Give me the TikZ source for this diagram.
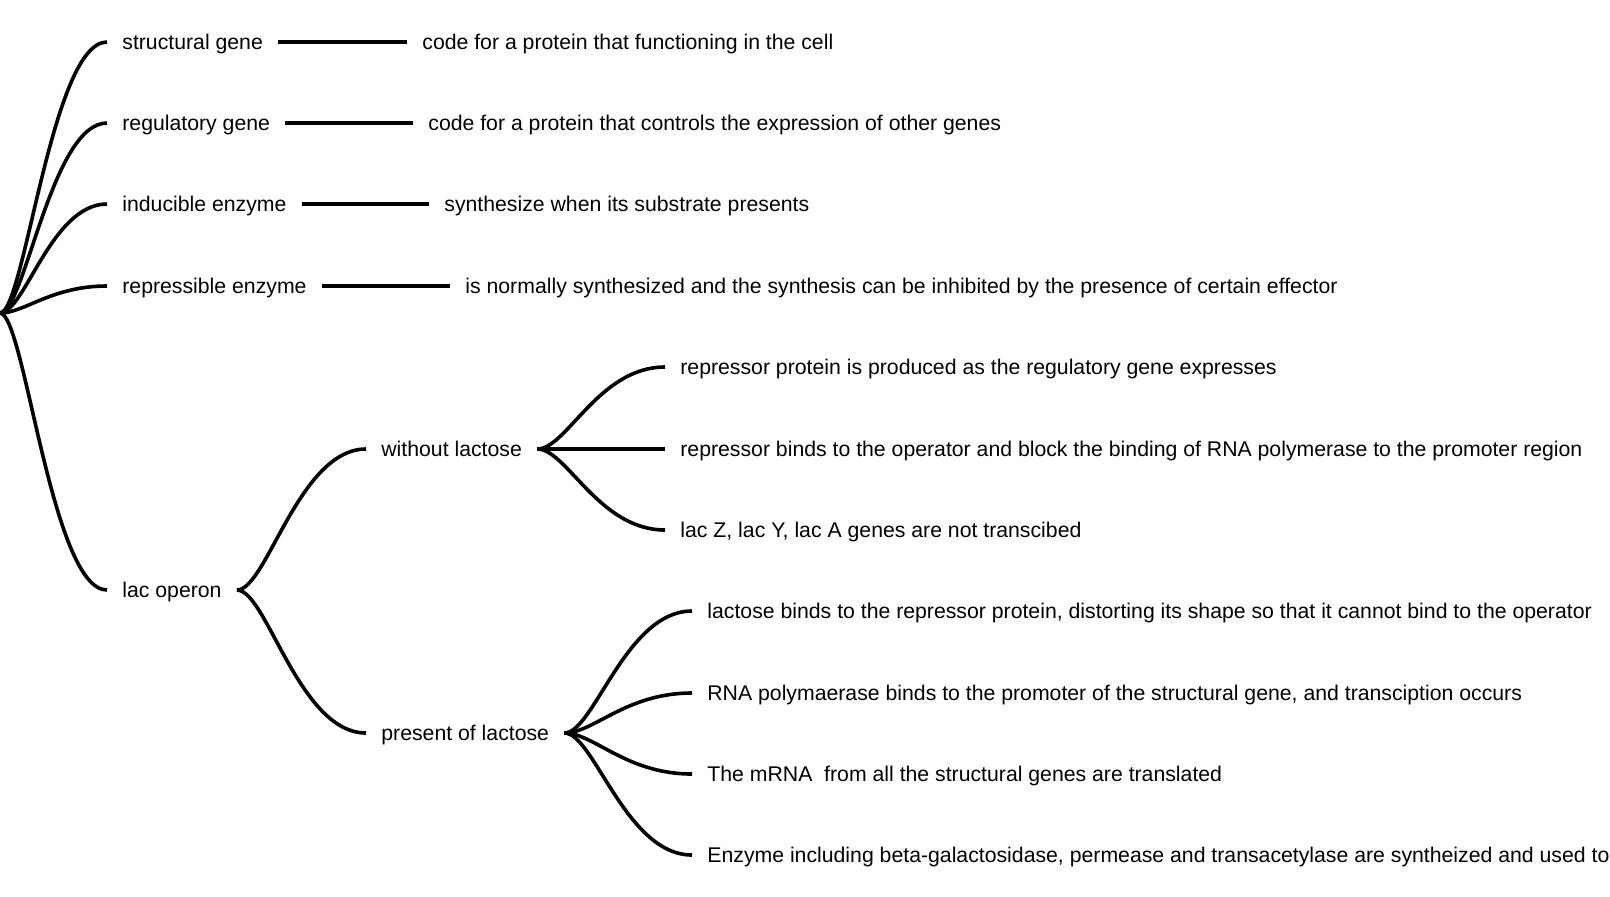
\documentclass[tikz,border=0pt]{standalone}
\usepackage{fontspec}
\setmainfont{Liberation Sans}
\usetikzlibrary{calc}
\begin{document}
\begin{tikzpicture}[x=0.5pt,y=-0.5pt,
  txt/.style={anchor=west, inner xsep=7.5pt, inner ysep=0pt, text height=7.6pt, text depth=0pt,
              font=\fontsize{10.62}{12}\selectfont},
  link/.style={line width=1.8pt, draw=black},
  branch/.style={to path={let \p1=(\tikztostart), \p2=(\tikztotarget) in
     .. controls ({\x1+0.23*(\x2-\x1)},\y1) and ({\x1+0.48*(\x2-\x1)},\y2) .. (\p2)}}]
\useasboundingbox (0,0) rectangle (1610,896);
\coordinate (root) at (0,313);
% level 1
\node[txt] (sg) at (107,42) {structural gene};
\node[txt] (rg) at (107,123) {regulatory gene};
\node[txt] (ie) at (107,204) {inducible enzyme};
\node[txt] (re) at (107,286) {repressible enzyme};
\node[txt] (lac) at (107,590) {lac operon};
% definitions
\node[txt] (d1) at (407,42) {code for a protein that functioning in the cell};
\node[txt] (d2) at (413,123) {code for a protein that controls the expression of other genes};
\node[txt] (d3) at (429,204) {synthesize when its substrate presents};
\node[txt] (d4) at (450,286) {is normally synthesized and the synthesis can be inhibited by the presence of certain effector};
% level 2
\node[txt] (wl) at (366,449) {without lactose};
\node[txt] (pl) at (366,733) {present of lactose};
% level 3
\node[txt] (w1) at (665,367) {repressor protein is produced as the regulatory gene expresses};
\node[txt] (w2) at (665,449) {repressor binds to the operator and block the binding of RNA polymerase to the promoter region};
\node[txt] (w3) at (665,530) {lac Z, lac Y, lac A genes are not transcibed};
\node[txt] (p1) at (692,611) {lactose binds to the repressor protein, distorting its shape so that it cannot bind to the operator};
\node[txt] (p2) at (692,693) {RNA polymaerase binds to the promoter of the structural gene, and transciption occurs};
\node[txt] (p3) at (692,774) {The mRNA~ from all the structural genes are translated};
\node[txt] (p4) at (692,855) {Enzyme including beta-galactosidase, permease and transacetylase are syntheized and used to};
% connectors
\foreach \c in {sg,rg,ie,re,lac} \draw[link] (root) to[branch] (\c.west);
\draw[link] (sg.east) -- (d1.west);
\draw[link] (rg.east) -- (d2.west);
\draw[link] (ie.east) -- (d3.west);
\draw[link] (re.east) -- (d4.west);
\draw[link] (lac.east) to[branch] (wl.west);
\draw[link] (lac.east) to[branch] (pl.west);
\foreach \c in {w1,w2,w3} \draw[link] (wl.east) to[branch] (\c.west);
\foreach \c in {p1,p2,p3,p4} \draw[link] (pl.east) to[branch] (\c.west);
\end{tikzpicture}
\end{document}
